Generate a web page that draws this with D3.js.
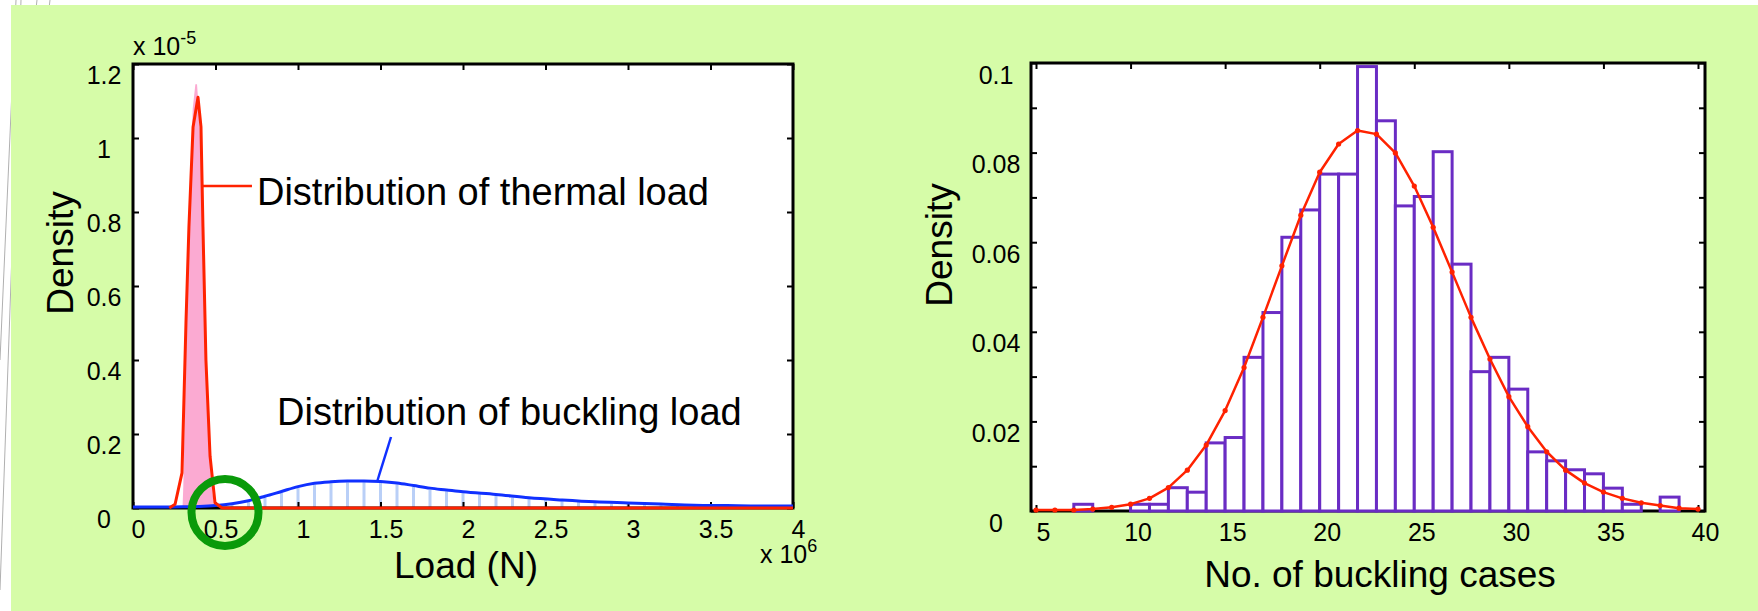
<!DOCTYPE html>
<html>
<head>
<meta charset="utf-8">
<script src="https://cdn.jsdelivr.net/npm/d3@7"></script>
<style>
  html,body{margin:0;padding:0;background:#ffffff;}
  svg{display:block;}
  text{font-family:"Liberation Sans",Arial,Helvetica,sans-serif;fill:#000;}
</style>
</head>
<body>
<svg id="chart" width="1758" height="611"></svg>
<script>
// ---------------- LEFT CHART DATA ----------------
const loadTicks = [0, 0.5, 1, 1.5, 2, 2.5, 3, 3.5, 4];
const loadTickLabels = ["0", "0.5", "1", "1.5", "2", "2.5", "3", "3.5", "4"];
const densTicks = [0, 0.2, 0.4, 0.6, 0.8, 1, 1.2];
const densTickLabels = ["0", "0.2", "0.4", "0.6", "0.8", "1", "1.2"];

// thermal load density curve (x in 1e6 N, y in 1e-5)
const thermalX = [0.22, 0.255, 0.297, 0.321, 0.339, 0.364, 0.394, 0.412, 0.424, 0.442, 0.467, 0.497, 0.54, 4.0];
const thermalY = [0, 0.01, 0.095, 0.5, 0.76, 1.03, 1.11, 1.03, 0.76, 0.4, 0.14, 0.014, 0, 0];
// thermal load histogram (pink area)
const thermalHistX = [0.30, 0.305, 0.315, 0.33, 0.345, 0.362, 0.378, 0.388, 0.40, 0.415, 0.43, 0.445, 0.46, 0.475, 0.49, 0.50];
const thermalHistY = [0, 0.06, 0.3, 0.62, 0.85, 1.08, 1.145, 1.145, 1.07, 0.9, 0.62, 0.35, 0.17, 0.07, 0.01, 0];

// buckling load density curve
const buckX = [0, 0.1, 0.2, 0.3, 0.4, 0.5, 0.6, 0.7, 0.8, 0.9, 1.0, 1.1, 1.2, 1.3, 1.4, 1.5, 1.6, 1.7, 1.8, 1.9, 2.0, 2.2, 2.4, 2.6, 2.8, 3.0, 3.2, 3.4, 3.6, 3.8, 4.0];
const buckY = [0, 0, 0, 0.0005, 0.0015, 0.004, 0.009, 0.017, 0.029, 0.042, 0.055, 0.064, 0.068, 0.070, 0.0705, 0.069, 0.065, 0.058, 0.051, 0.046, 0.041, 0.034, 0.025, 0.019, 0.014, 0.011, 0.008, 0.005, 0.004, 0.003, 0.003];
// buckling load histogram (light blue stripes)
const buckHistX = [0.6, 0.7, 0.8, 0.9, 1.0, 1.1, 1.2, 1.3, 1.4, 1.5, 1.6, 1.7, 1.8, 1.9, 2.0, 2.1, 2.2, 2.3, 2.4, 2.5, 2.6, 2.7, 2.8, 2.9, 3.0, 3.1, 3.2, 3.3, 3.4, 3.5, 3.6, 3.7, 3.8, 3.9];
const buckHistY = [0.009, 0.016, 0.028, 0.041, 0.054, 0.063, 0.067, 0.069, 0.070, 0.068, 0.064, 0.057, 0.050, 0.045, 0.040, 0.037, 0.033, 0.029, 0.025, 0.022, 0.019, 0.016, 0.014, 0.012, 0.010, 0.009, 0.008, 0.006, 0.005, 0.004, 0.004, 0.003, 0.003, 0.003];

// ---------------- RIGHT CHART DATA ----------------
const caseTicks = [5, 10, 15, 20, 25, 30, 35, 40];
const caseTickLabels = ["5", "10", "15", "20", "25", "30", "35", "40"];
const caseDensTicks = [0, 0.02, 0.04, 0.06, 0.08, 0.1];
const caseDensTickLabels = ["0", "0.02", "0.04", "0.06", "0.08", "0.1"];
const caseDensMinorTicks = [0, 0.01, 0.02, 0.03, 0.04, 0.05, 0.06, 0.07, 0.08, 0.09, 0.1];

// histogram bins (left edge, width 1)
const caseBinStart = [7, 8, 9, 10, 11, 12, 13, 14, 15, 16, 17, 18, 19, 20, 21, 22, 23, 24, 25, 26, 27, 28, 29, 30, 31, 32, 33, 34, 35, 36, 37, 38];
const caseDensity = [0.0015, 0, 0, 0.0015, 0.0015, 0.0052, 0.0042, 0.0152, 0.0164, 0.0343, 0.0443, 0.0611, 0.0672, 0.0752, 0.0752, 0.0992, 0.0871, 0.0681, 0.0702, 0.0802, 0.0551, 0.0311, 0.0343, 0.0272, 0.0132, 0.0112, 0.0092, 0.0083, 0.0051, 0.0015, 0, 0.0031];

// fitted density at integer counts
const fitX = [5, 6, 7, 8, 9, 10, 11, 12, 13, 14, 15, 16, 17, 18, 19, 20, 21, 22, 23, 24, 25, 26, 27, 28, 29, 30, 31, 32, 33, 34, 35, 36, 37, 38, 39, 40];
const fitY = [0, 0, 0, 0.0002, 0.0006, 0.0013, 0.0026, 0.005, 0.0089, 0.0145, 0.0222, 0.0318, 0.043, 0.0545, 0.0658, 0.0754, 0.0817, 0.0847, 0.0839, 0.0797, 0.0723, 0.0631, 0.0531, 0.043, 0.0337, 0.0253, 0.0186, 0.013, 0.0089, 0.006, 0.004, 0.0026, 0.0016, 0.001, 0.0004, 0.0002];

// ---------------- STYLE ----------------
const BG = "#d6fca8";
const RED = "#ff2200";
const PINK = "#fbaad2";
const BLUE = "#1030ff";
const LIGHTBLUE = "#b9cff7";
const PURPLE = "#6a2cc4";
const GREEN = "#0a9a0a";
const FONT = "'Liberation Sans', Arial, Helvetica, sans-serif";

const svg = d3.select("#chart");

// slide decoration lines
const deco = [[21, 0, 0, 590], [16, 0, 0, 360], [37, 0, 30, 60], [50, 0, 43, 60]];
svg.selectAll("line.deco").data(deco).join("line")
  .attr("x1", d => d[0]).attr("y1", d => d[1]).attr("x2", d => d[2]).attr("y2", d => d[3])
  .attr("stroke", "#b0b0b0").attr("stroke-width", 1);

// green background
svg.append("rect").attr("x", 11).attr("y", 5).attr("width", 1747).attr("height", 606).attr("fill", BG);

function styleAxis(g, size) {
  g.attr("font-family", FONT).attr("font-size", size);
  g.select(".domain").remove();
  g.selectAll(".tick line").attr("stroke", "#000").attr("stroke-width", 2);
  g.selectAll(".tick text").attr("fill", "#000");
}

// ================= LEFT CHART =================
const L = {x0: 133, x1: 793, y0: 508, y1: 64};
const xL = d3.scaleLinear().domain([0, 4]).range([L.x0, L.x1]);
const yL = d3.scaleLinear().domain([0, 1.2]).range([L.y0, L.y1]);

const gL = svg.append("g");
gL.append("rect").attr("x", L.x0).attr("y", L.y1).attr("width", L.x1 - L.x0).attr("height", L.y0 - L.y1).attr("fill", "#fff");

// pink histogram area
const thermalHist = thermalHistX.map((x, i) => [x, thermalHistY[i]]);
gL.append("path").datum(thermalHist)
  .attr("d", d3.area().x(d => xL(d[0])).y0(yL(0)).y1(d => yL(d[1])))
  .attr("fill", PINK);

// light blue stripes
gL.selectAll("line.bh").data(buckHistX.map((x, i) => [x, buckHistY[i]])).join("line")
  .attr("x1", d => xL(d[0])).attr("x2", d => xL(d[0]))
  .attr("y1", yL(0) - 1).attr("y2", d => yL(d[1]))
  .attr("stroke", LIGHTBLUE).attr("stroke-width", 3);

// frame
gL.append("rect").attr("x", L.x0).attr("y", L.y1).attr("width", L.x1 - L.x0).attr("height", L.y0 - L.y1)
  .attr("fill", "none").attr("stroke", "#000").attr("stroke-width", 3);

// axes
gL.append("g").attr("transform", `translate(0,${L.y0})`)
  .call(d3.axisBottom(xL).tickValues(loadTicks).tickFormat((d, i) => loadTickLabels[i]).tickSizeInner(-6).tickSizeOuter(0).tickPadding(12))
  .call(g => styleAxis(g, 25))
  .call(g => g.selectAll(".tick text").attr("dx", 5));
gL.append("g").attr("transform", `translate(0,${L.y1})`)
  .call(d3.axisTop(xL).tickValues(loadTicks).tickFormat("").tickSizeInner(-6).tickSizeOuter(0))
  .call(g => styleAxis(g, 25));
gL.append("g").attr("transform", `translate(${L.x0},0)`)
  .call(d3.axisLeft(yL).tickValues(densTicks).tickFormat((d, i) => densTickLabels[i]).tickSizeInner(-6).tickSizeOuter(0))
  .call(g => styleAxis(g, 25))
  .call(g => g.selectAll(".tick text").attr("text-anchor", "middle").attr("x", -29).attr("dy", "0.76em"));
gL.append("g").attr("transform", `translate(${L.x1},0)`)
  .call(d3.axisRight(yL).tickValues(densTicks).tickFormat("").tickSizeInner(-6).tickSizeOuter(0))
  .call(g => styleAxis(g, 25));

// blue buckling curve
const buck = buckX.map((x, i) => [x, buckY[i]]);
gL.append("path").datum(buck)
  .attr("d", d3.line().x(d => xL(d[0])).y(d => yL(d[1]) - 1).curve(d3.curveMonotoneX))
  .attr("fill", "none").attr("stroke", BLUE).attr("stroke-width", 3);

// red thermal curve
const thermal = thermalX.map((x, i) => [x, thermalY[i]]);
gL.append("path").datum(thermal)
  .attr("d", d3.line().x(d => xL(d[0])).y(d => yL(d[1])))
  .attr("fill", "none").attr("stroke", RED).attr("stroke-width", 3).attr("stroke-linejoin", "round");

// annotations
gL.append("line").attr("x1", xL(0.418)).attr("x2", xL(0.721)).attr("y1", yL(0.87)).attr("y2", yL(0.87))
  .attr("stroke", RED).attr("stroke-width", 2.5);
gL.append("text").attr("x", xL(0.7515)).attr("y", yL(0.819)).attr("font-size", 38).text("Distribution of thermal load");
gL.append("line").attr("x1", 391).attr("y1", 437).attr("x2", 377).attr("y2", 482)
  .attr("stroke", BLUE).attr("stroke-width", 2.5);
gL.append("text").attr("x", 277).attr("y", 425).attr("font-size", 38).text("Distribution of buckling load");

// exponent labels
const e5 = gL.append("text").attr("x", 133).attr("y", 55).attr("font-size", 25);
e5.append("tspan").text("x 10");
e5.append("tspan").attr("dy", -11).attr("font-size", 18).text("-5");
const e6 = gL.append("text").attr("x", 760).attr("y", 563).attr("font-size", 25);
e6.append("tspan").text("x 10");
e6.append("tspan").attr("dy", -11).attr("font-size", 18).text("6");

// axis titles
gL.append("text").attr("x", 466).attr("y", 578).attr("text-anchor", "middle").attr("font-size", 37).text("Load (N)");
gL.append("text").attr("transform", "translate(73,253) rotate(-90)").attr("text-anchor", "middle").attr("font-size", 37).text("Density");

// green highlight circle
gL.append("circle").attr("cx", xL(0.5576)).attr("cy", yL(-0.012)).attr("r", 33.5)
  .attr("fill", "none").attr("stroke", GREEN).attr("stroke-width", 8);

// ================= RIGHT CHART =================
const R = {x0: 1031, x1: 1705, y0: 511, y1: 63};
const xR = d3.scaleLinear().domain([4.736, 40.37]).range([R.x0, R.x1]);
const yR = d3.scaleLinear().domain([0, 0.1]).range([R.y0, R.y1]);

const gR = svg.append("g");
gR.append("rect").attr("x", R.x0).attr("y", R.y1).attr("width", R.x1 - R.x0).attr("height", R.y0 - R.y1).attr("fill", "#fff");

gR.append("rect").attr("x", R.x0).attr("y", R.y1).attr("width", R.x1 - R.x0).attr("height", R.y0 - R.y1)
  .attr("fill", "none").attr("stroke", "#000").attr("stroke-width", 3);

gR.append("g").attr("transform", `translate(0,${R.y0})`)
  .call(d3.axisBottom(xR).tickValues(caseTicks).tickFormat((d, i) => caseTickLabels[i]).tickSizeInner(-6).tickSizeOuter(0).tickPadding(12))
  .call(g => styleAxis(g, 25))
  .call(g => g.selectAll(".tick text").attr("dx", 7));
gR.append("g").attr("transform", `translate(0,${R.y1})`)
  .call(d3.axisTop(xR).tickValues(caseTicks).tickFormat("").tickSizeInner(-6).tickSizeOuter(0))
  .call(g => styleAxis(g, 25));
gR.append("g").attr("transform", `translate(${R.x0},0)`)
  .call(d3.axisLeft(yR).tickValues(caseDensMinorTicks).tickFormat("").tickSizeInner(-6).tickSizeOuter(0))
  .call(g => styleAxis(g, 25));
gR.append("g").attr("transform", `translate(${R.x0},0)`)
  .call(d3.axisLeft(yR).tickValues(caseDensTicks).tickFormat((d, i) => caseDensTickLabels[i]).tickSize(0))
  .call(g => styleAxis(g, 25))
  .call(g => g.selectAll(".tick text").attr("text-anchor", "middle").attr("x", -35).attr("dy", "0.8em"));
gR.append("g").attr("transform", `translate(${R.x1},0)`)
  .call(d3.axisRight(yR).tickValues(caseDensMinorTicks).tickFormat("").tickSizeInner(-6).tickSizeOuter(0))
  .call(g => styleAxis(g, 25));

// histogram bars
gR.selectAll("rect.bar").data(caseBinStart.map((s, i) => [s, caseDensity[i]])).join("rect")
  .attr("class", "bar")
  .attr("x", d => xR(d[0])).attr("width", d => xR(d[0] + 1) - xR(d[0]))
  .attr("y", d => yR(d[1])).attr("height", d => yR(0) - yR(d[1]))
  .attr("fill", "#fff").attr("stroke", PURPLE).attr("stroke-width", 3);

// fitted curve
const fit = fitX.map((x, i) => [x, fitY[i]]);
gR.append("path").datum(fit)
  .attr("d", d3.line().x(d => xR(d[0])).y(d => yR(d[1]) - 1))
  .attr("fill", "none").attr("stroke", RED).attr("stroke-width", 2.5).attr("stroke-linejoin", "round");
gR.selectAll("circle.m").data(fit).join("circle")
  .attr("cx", d => xR(d[0])).attr("cy", d => yR(d[1]) - 1).attr("r", 2.6).attr("fill", RED);

// axis titles
gR.append("text").attr("x", 1380).attr("y", 587).attr("text-anchor", "middle").attr("font-size", 37).text("No. of buckling cases");
gR.append("text").attr("transform", "translate(952,245) rotate(-90)").attr("text-anchor", "middle").attr("font-size", 37).text("Density");
</script>
</body>
</html>
